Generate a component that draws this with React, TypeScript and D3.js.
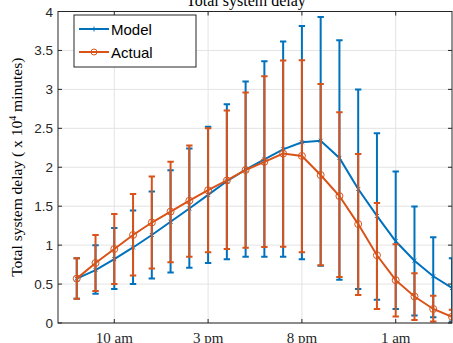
import * as d3 from "d3"

// hours since midnight of the first day (8 am ... 4 am next day)
const hours = [8, 9, 10, 11, 12, 13, 14, 15, 16, 17, 18, 19, 20, 21, 22, 23, 24, 25, 26, 27, 28]

const modelMean = [0.57, 0.68, 0.82, 0.97, 1.13, 1.3, 1.47, 1.645, 1.82, 1.97, 2.1, 2.23, 2.32, 2.34, 2.12, 1.72, 1.375, 1.05, 0.8, 0.6, 0.45]
const modelUpper = [0.83, 1.0, 1.22, 1.445, 1.69, 1.96, 2.24, 2.52, 2.81, 3.1, 3.36, 3.615, 3.815, 3.93, 3.63, 3.0, 2.435, 1.945, 1.495, 1.1, 0.83]
const modelLower = [0.31, 0.375, 0.435, 0.5, 0.57, 0.65, 0.71, 0.77, 0.82, 0.85, 0.85, 0.85, 0.82, 0.735, 0.555, 0.435, 0.3, 0.18, 0.095, 0.075, 0.02]

const actualMean = [0.57, 0.77, 0.95, 1.13, 1.29, 1.43, 1.57, 1.705, 1.83, 1.965, 2.07, 2.175, 2.145, 1.9, 1.63, 1.27, 0.87, 0.55, 0.34, 0.18, 0.08]
const actualUpper = [0.83, 1.13, 1.4, 1.655, 1.88, 2.07, 2.28, 2.5, 2.73, 2.96, 3.17, 3.37, 3.375, 3.07, 2.705, 2.17, 1.54, 1.01, 0.64, 0.35, 0.17]
const actualLower = [0.31, 0.41, 0.5, 0.61, 0.7, 0.78, 0.85, 0.91, 0.95, 0.965, 0.975, 0.98, 0.91, 0.74, 0.59, 0.36, 0.18, 0.085, 0.04, 0.02, 0.0]

const xTickHours = [10, 15, 20, 25]
const xTickLabels = ["10 am", "3 pm", "8 pm", "1 am"]
const yTicks = [0, 0.5, 1, 1.5, 2, 2.5, 3, 3.5, 4]

const BLUE = "#0072BD"
const ORANGE = "#D95319"

const W = 453
const H = 343
const left = 58
const right = 452
const top = 11.5
const bottom = 323

export default function App() {
  const x = d3.scaleLinear().domain([7, 28]).range([left, right])
  const y = d3.scaleLinear().domain([0, 4]).range([bottom, top])

  const line = d3
    .line<number>()
    .x((_, i) => x(hours[i]))
    .y((d) => y(d))

  const capW = 3.2

  const errorBars = (upper: number[], lower: number[], color: string) =>
    hours.map((h, i) => (
      <g key={i} stroke={color} strokeWidth={2}>
        <line x1={x(h)} x2={x(h)} y1={y(upper[i])} y2={y(lower[i])} />
        <line x1={x(h) - capW} x2={x(h) + capW} y1={y(upper[i])} y2={y(upper[i])} />
        <line x1={x(h) - capW} x2={x(h) + capW} y1={y(lower[i])} y2={y(lower[i])} />
      </g>
    ))

  return (
    <div style={{ position: "absolute", left: 0, top: 0 }}>
      <svg width={W} height={H} style={{ display: "block", background: "#fff" }}>
        <defs>
          <clipPath id="plot">
            <rect x={left} y={top} width={right - left} height={bottom - top} />
          </clipPath>
        </defs>

        {/* title (cut off at the top) */}
        <text x={246} y={5.5} textAnchor="middle" fontFamily="Liberation Serif, Times New Roman, serif" fontSize={16}>
          Total system delay
        </text>

        {/* grid */}
        <g stroke="#e3e3e3" strokeWidth={1}>
          {xTickHours.map((h) => (
            <line key={h} x1={x(h)} x2={x(h)} y1={top} y2={bottom} />
          ))}
          {yTicks.map((t) => (
            <line key={t} x1={left} x2={right} y1={y(t)} y2={y(t)} />
          ))}
        </g>

        <g clipPath="url(#plot)">
          {/* model */}
          {errorBars(modelUpper, modelLower, BLUE)}
          <path d={line(modelMean) ?? ""} fill="none" stroke={BLUE} strokeWidth={2} />
          {hours.map((h, i) => (
            <g key={i} stroke={BLUE} strokeWidth={1}>
              <line x1={x(h) - 2} x2={x(h) + 2} y1={y(modelMean[i]) - 2} y2={y(modelMean[i]) + 2} />
              <line x1={x(h) - 2} x2={x(h) + 2} y1={y(modelMean[i]) + 2} y2={y(modelMean[i]) - 2} />
            </g>
          ))}

          {/* actual */}
          {errorBars(actualUpper, actualLower, ORANGE)}
          <path d={line(actualMean) ?? ""} fill="none" stroke={ORANGE} strokeWidth={2} />
          {hours.map((h, i) => (
            <circle key={i} cx={x(h)} cy={y(actualMean[i])} r={3.5} fill="none" stroke={ORANGE} strokeWidth={1} />
          ))}
        </g>

        {/* axes box */}
        <rect x={left} y={top} width={right - left} height={bottom - top} fill="none" stroke="#262626" strokeWidth={1} />
        <g stroke="#262626" strokeWidth={1}>
          {yTicks.map((t) => (
            <g key={t}>
              <line x1={left} x2={left + 4} y1={y(t)} y2={y(t)} />
              <line x1={right - 4} x2={right} y1={y(t)} y2={y(t)} />
            </g>
          ))}
          {xTickHours.map((h) => (
            <g key={h}>
              <line x1={x(h)} x2={x(h)} y1={bottom} y2={bottom - 4} />
              <line x1={x(h)} x2={x(h)} y1={top} y2={top + 4} />
            </g>
          ))}
        </g>

        {/* y tick labels */}
        <g fontFamily="Liberation Sans, Arial, sans-serif" fontSize={13.5} fill="#262626" textAnchor="end">
          {yTicks.map((t) => (
            <text key={t} x={53} y={y(t) + 5}>
              {t}
            </text>
          ))}
        </g>

        {/* x tick labels */}
        <g fontFamily="Liberation Serif, Times New Roman, serif" fontSize={15} fill="#262626" textAnchor="middle">
          {xTickHours.map((h, i) => (
            <text key={h} x={x(h)} y={343}>
              {xTickLabels[i]}
            </text>
          ))}
        </g>

        {/* y axis label */}
        <text
          transform={`translate(22,${(top + bottom) / 2}) rotate(-90)`}
          textAnchor="middle"
          fontFamily="Liberation Serif, Times New Roman, serif"
          fontSize={15.5}
          fill="#000"
        >
          Total system delay ( x 10
          <tspan dy={-6} fontSize={10}>
            4
          </tspan>
          <tspan dy={6}> minutes)</tspan>
        </text>

        {/* legend */}
        <rect x={74} y={15} width={122} height={52} fill="#fff" stroke="#262626" strokeWidth={1} />
        <g fontFamily="Liberation Sans, Arial, sans-serif" fontSize={15} fill="#000">
          <line x1={79} x2={109} y1={29} y2={29} stroke={BLUE} strokeWidth={2} />
          <line x1={94} x2={94} y1={26.5} y2={31.5} stroke={BLUE} strokeWidth={1} />
          <text x={111} y={34.5}>Model</text>
          <line x1={79} x2={109} y1={52} y2={52} stroke={ORANGE} strokeWidth={2} />
          <circle cx={94} cy={52} r={3} fill="none" stroke={ORANGE} strokeWidth={1} />
          <text x={111} y={57.5}>Actual</text>
        </g>
      </svg>
    </div>
  )
}
